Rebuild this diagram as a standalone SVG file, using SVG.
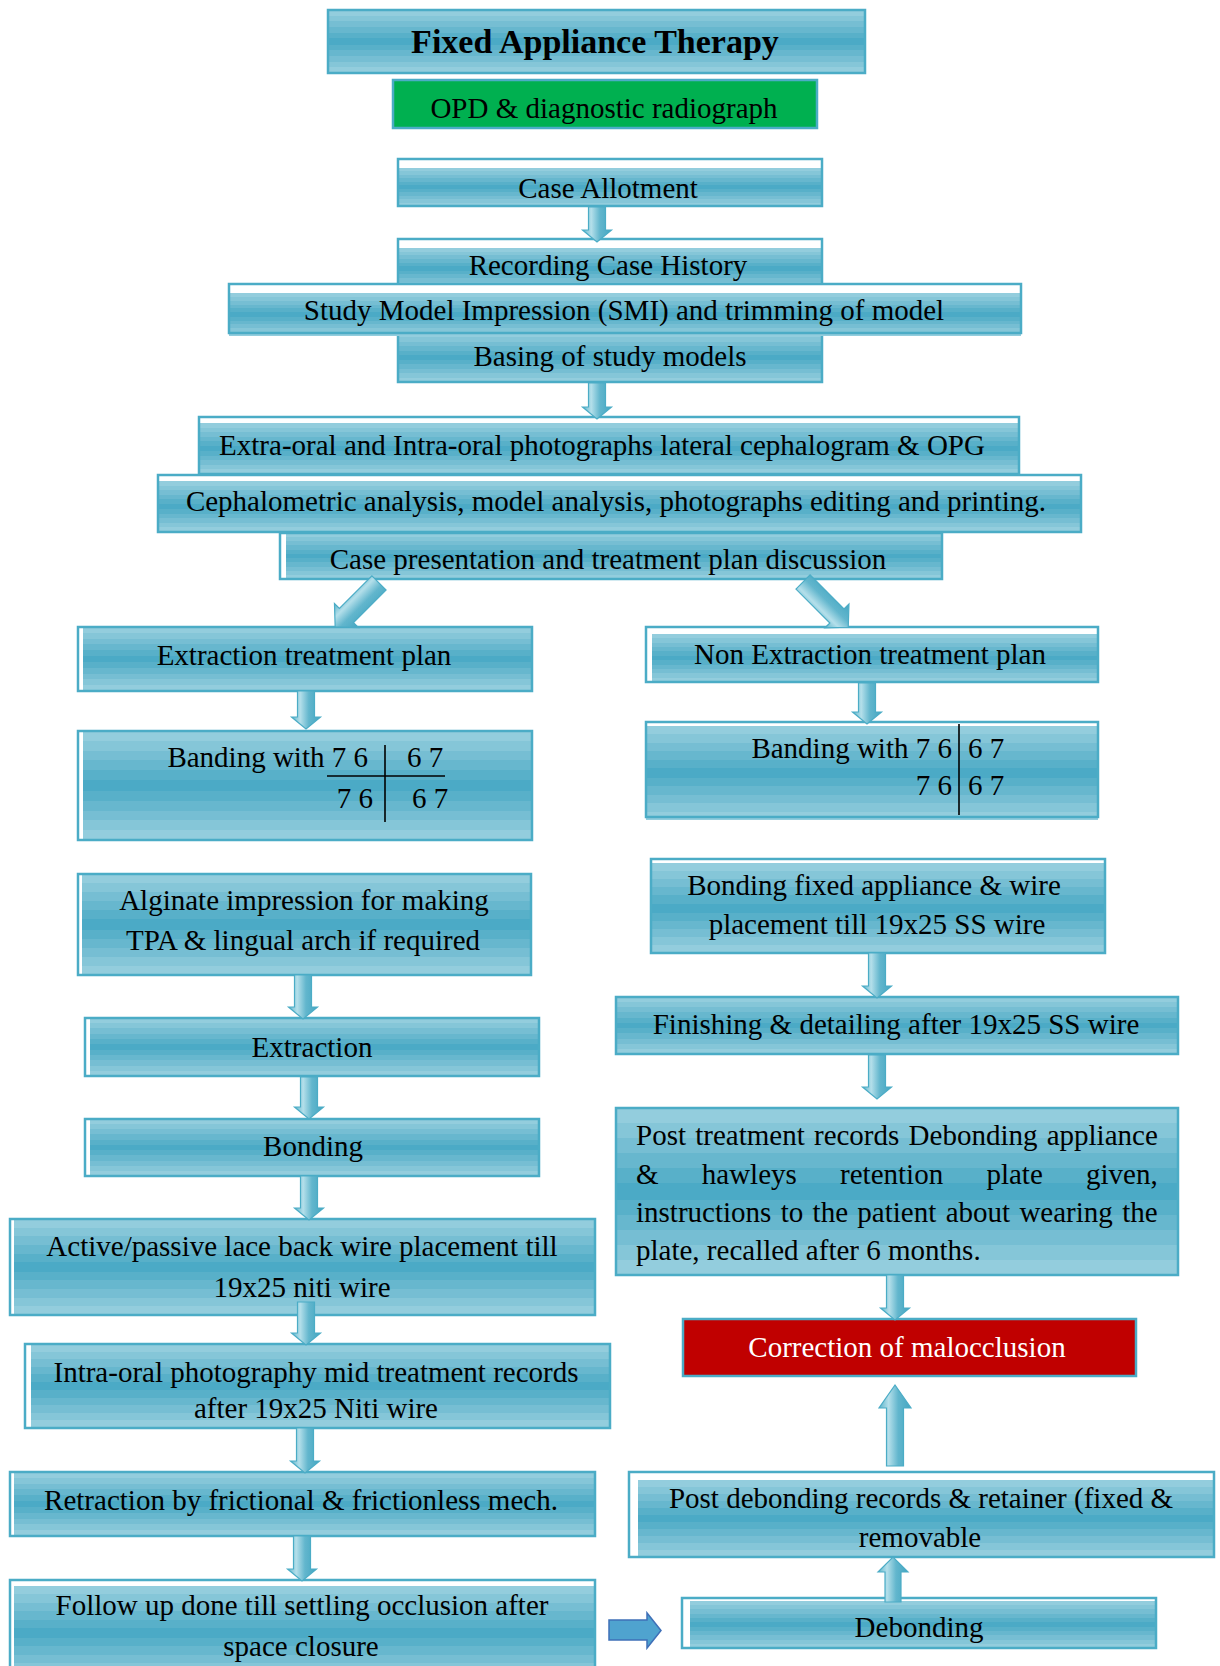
<svg xmlns="http://www.w3.org/2000/svg" width="1220" height="1666" viewBox="0 0 1220 1666">
<defs>
<linearGradient id="band" x1="0" y1="0" x2="0" y2="1">
<stop offset="0" stop-color="#93CDDD"/><stop offset="0.09" stop-color="#93CDDD"/>
<stop offset="0.09" stop-color="#85C6D8"/><stop offset="0.18" stop-color="#85C6D8"/>
<stop offset="0.18" stop-color="#76BED3"/><stop offset="0.27" stop-color="#76BED3"/>
<stop offset="0.27" stop-color="#67B7CE"/><stop offset="0.36" stop-color="#67B7CE"/>
<stop offset="0.36" stop-color="#58B0C9"/><stop offset="0.45" stop-color="#58B0C9"/>
<stop offset="0.45" stop-color="#4BAAC6"/><stop offset="0.55" stop-color="#4BAAC6"/>
<stop offset="0.55" stop-color="#58B0C9"/><stop offset="0.64" stop-color="#58B0C9"/>
<stop offset="0.64" stop-color="#67B7CE"/><stop offset="0.73" stop-color="#67B7CE"/>
<stop offset="0.73" stop-color="#76BED3"/><stop offset="0.82" stop-color="#76BED3"/>
<stop offset="0.82" stop-color="#85C6D8"/><stop offset="0.91" stop-color="#85C6D8"/>
<stop offset="0.91" stop-color="#93CDDD"/><stop offset="1" stop-color="#93CDDD"/>
</linearGradient>
<linearGradient id="ag" x1="0" y1="0" x2="1" y2="0">
<stop offset="0" stop-color="#5DB4CB"/>
<stop offset="0.3" stop-color="#B4DFEA"/>
<stop offset="0.6" stop-color="#62B6CD"/>
<stop offset="1" stop-color="#45A6C2"/>
</linearGradient>
<style>
.bg{fill:#fff;stroke:none}
.fl{fill:url(#band);stroke:none}
.ol{fill:none;stroke:#4BACC6;stroke-width:2.5}
.t{font-family:"Liberation Serif","Times New Roman",serif;font-size:29px;fill:#000;text-anchor:middle}
.tl{font-family:"Liberation Serif","Times New Roman",serif;font-size:29px;fill:#000}
.arr{fill:url(#ag);stroke:#4BACC6;stroke-width:1.2}
.ln{stroke:#000;stroke-width:1.6}
</style>
</defs>

<g id="title">
<rect class="fl" x="328" y="10" width="537" height="63"/>
<rect class="ol" x="328" y="10" width="537" height="63"/>
<text class="t" x="595" y="53" style="font-weight:bold;font-size:34px">Fixed Appliance Therapy</text>
</g>

<g id="opd">
<rect x="393" y="80" width="424" height="48" fill="#00B050" stroke="#4BACC6" stroke-width="2.5"/>
<text class="t" x="604" y="118">OPD &amp; diagnostic radiograph</text>
</g>

<g id="case-allotment">
<rect class="bg" x="398" y="159" width="424" height="47"/>
<rect class="fl" x="398" y="168" width="424" height="38"/>
<rect class="ol" x="398" y="159" width="424" height="47"/>
<text class="t" x="608" y="198">Case Allotment</text>
</g>

<g id="recording">
<rect class="bg" x="398" y="239" width="424" height="50"/>
<rect class="fl" x="398" y="248" width="424" height="41"/>
<rect class="ol" x="398" y="239" width="424" height="50"/>
<text class="t" x="608" y="275">Recording Case History</text>
</g>

<g id="basing">
<rect class="fl" x="398" y="333" width="424" height="49"/>
<rect class="ol" x="398" y="333" width="424" height="49"/>
<text class="t" x="610" y="366">Basing of study models</text>
</g>

<g id="study-model">
<rect class="bg" x="229" y="284" width="792" height="49"/>
<rect class="fl" x="229" y="293" width="792" height="43"/>
<rect class="ol" x="229" y="284" width="792" height="49"/>
<text class="t" x="624" y="320">Study Model Impression (SMI) and trimming of model</text>
</g>

<g id="extra-oral">
<rect class="bg" x="199" y="417" width="820" height="57"/>
<rect class="fl" x="199" y="423" width="820" height="51"/>
<rect class="ol" x="199" y="417" width="820" height="57"/>
<text class="t" x="602" y="455">Extra-oral and Intra-oral photographs lateral cephalogram &amp; OPG</text>
</g>

<g id="case-presentation">
<rect class="bg" x="280" y="533" width="662" height="46"/>
<rect class="fl" x="286" y="533" width="656" height="46"/>
<rect class="ol" x="280" y="533" width="662" height="46"/>
<text class="t" x="608" y="569">Case presentation and treatment plan discussion</text>
</g>

<g id="cephalometric">
<rect class="bg" x="158" y="475" width="923" height="57"/>
<rect class="fl" x="158" y="481" width="923" height="51"/>
<rect class="ol" x="158" y="475" width="923" height="57"/>
<text class="t" x="616" y="511">Cephalometric analysis, model analysis, photographs editing and printing.</text>
</g>

<g id="extraction-plan">
<rect class="bg" x="78" y="627" width="454" height="64"/>
<rect class="fl" x="83" y="627" width="449" height="64"/>
<rect class="ol" x="78" y="627" width="454" height="64"/>
<text class="t" x="304" y="665">Extraction treatment plan</text>
</g>

<g id="banding-left">
<rect class="bg" x="78" y="731" width="454" height="109"/>
<rect class="fl" x="83" y="731" width="449" height="109"/>
<rect class="ol" x="78" y="731" width="454" height="109"/>
<text class="tl" x="368" y="767" text-anchor="end">Banding with 7 6</text>
<text class="tl" x="407" y="767">6 7</text>
<text class="tl" x="373" y="808" text-anchor="end">7 6</text>
<text class="tl" x="412" y="808">6 7</text>
<line class="ln" x1="327" y1="776" x2="445" y2="776"/>
<line class="ln" x1="385" y1="745" x2="385" y2="822"/>
</g>

<g id="non-extraction-plan">
<rect class="bg" x="646" y="627" width="452" height="55"/>
<rect class="fl" x="652" y="634" width="446" height="48"/>
<rect class="ol" x="646" y="627" width="452" height="55"/>
<text class="t" x="870" y="664">Non Extraction treatment plan</text>
</g>

<g id="banding-right">
<rect class="bg" x="646" y="722" width="452" height="95"/>
<rect class="fl" x="646" y="726" width="452" height="94"/>
<rect class="ol" x="646" y="722" width="452" height="95"/>
<text class="tl" x="952" y="758" text-anchor="end">Banding with 7 6</text>
<text class="tl" x="968" y="758">6 7</text>
<text class="tl" x="952" y="795" text-anchor="end">7 6</text>
<text class="tl" x="968" y="795">6 7</text>
<line class="ln" x1="959" y1="724" x2="959" y2="815"/>
</g>

<g id="alginate">
<rect class="bg" x="78" y="874" width="453" height="101"/>
<rect class="fl" x="82" y="874" width="449" height="101"/>
<rect class="ol" x="78" y="874" width="453" height="101"/>
<text class="t" x="304" y="910">Alginate impression for making</text>
<text class="t" x="303" y="950">TPA &amp; lingual arch if required</text>
</g>

<g id="extraction">
<rect class="bg" x="85" y="1018" width="454" height="58"/>
<rect class="fl" x="90" y="1018" width="449" height="58"/>
<rect class="ol" x="85" y="1018" width="454" height="58"/>
<text class="t" x="312" y="1057">Extraction</text>
</g>

<g id="bonding">
<rect class="bg" x="85" y="1119" width="454" height="57"/>
<rect class="fl" x="90" y="1119" width="449" height="57"/>
<rect class="ol" x="85" y="1119" width="454" height="57"/>
<text class="t" x="313" y="1156">Bonding</text>
</g>

<g id="active-passive">
<rect class="bg" x="10" y="1219" width="585" height="96"/>
<rect class="fl" x="14" y="1219" width="581" height="96"/>
<rect class="ol" x="10" y="1219" width="585" height="96"/>
<text class="t" x="302" y="1256">Active/passive lace back wire placement till</text>
<text class="t" x="302" y="1297">19x25 niti wire</text>
</g>

<g id="intra-oral">
<rect class="bg" x="25" y="1344" width="585" height="84"/>
<rect class="fl" x="31" y="1344" width="579" height="84"/>
<rect class="ol" x="25" y="1344" width="585" height="84"/>
<text class="t" x="316" y="1382">Intra-oral photography mid treatment records</text>
<text class="t" x="316" y="1418">after 19x25 Niti wire</text>
</g>

<g id="retraction">
<rect class="bg" x="10" y="1472" width="585" height="64"/>
<rect class="fl" x="14" y="1472" width="581" height="64"/>
<rect class="ol" x="10" y="1472" width="585" height="64"/>
<text class="t" x="301" y="1510">Retraction by frictional &amp; frictionless mech.</text>
</g>

<g id="follow-up">
<rect class="bg" x="10" y="1580" width="585" height="100"/>
<rect class="fl" x="14" y="1586" width="581" height="94"/>
<rect class="ol" x="10" y="1580" width="585" height="100"/>
<text class="t" x="302" y="1615">Follow up done till settling occlusion after</text>
<text class="t" x="301" y="1656">space closure</text>
</g>

<g id="bonding-fixed">
<rect class="bg" x="651" y="859" width="454" height="94"/>
<rect class="fl" x="651" y="863" width="454" height="90"/>
<rect class="ol" x="651" y="859" width="454" height="94"/>
<text class="t" x="874" y="895">Bonding fixed appliance &amp; wire</text>
<text class="t" x="877" y="934">placement till 19x25 SS wire</text>
</g>

<g id="finishing">
<rect class="fl" x="616" y="997" width="562" height="57"/>
<rect class="ol" x="616" y="997" width="562" height="57"/>
<text class="t" x="896" y="1034">Finishing &amp; detailing after 19x25 SS wire</text>
</g>

<g id="post-treatment">
<rect class="fl" x="616" y="1108" width="562" height="167"/>
<rect class="ol" x="616" y="1108" width="562" height="167"/>
<text class="tl" x="636" y="1145" word-spacing="2">Post treatment records Debonding appliance</text>
<text class="tl" x="636" y="1184" word-spacing="36">&amp; hawleys retention plate given,</text>
<text class="tl" x="636" y="1222" word-spacing="2.1">instructions to the patient about wearing the</text>
<text class="tl" x="636" y="1260">plate, recalled after 6 months.</text>
</g>

<g id="correction">
<rect x="683" y="1319" width="453" height="57" fill="#C00000" stroke="#4BACC6" stroke-width="2.5"/>
<text class="t" x="907" y="1357" style="fill:#fff">Correction of malocclusion</text>
</g>

<g id="post-debonding">
<rect class="bg" x="629" y="1472" width="585" height="85"/>
<rect class="fl" x="638" y="1480" width="576" height="77"/>
<rect class="ol" x="629" y="1472" width="585" height="85"/>
<text class="t" x="921" y="1508">Post debonding records &amp; retainer (fixed &amp;</text>
<text class="t" x="920" y="1547">removable</text>
</g>

<g id="debonding">
<rect class="bg" x="682" y="1598" width="474" height="50"/>
<rect class="fl" x="690" y="1601" width="466" height="47"/>
<rect class="ol" x="682" y="1598" width="474" height="50"/>
<text class="t" x="919" y="1637">Debonding</text>
</g>

<g id="connectors">
<path class="arr" d="M588.5,207 H605.5 V230 H611.5 L597,242 L582.5,230 H588.5 Z"/>
<path class="arr" d="M588.5,383 H605.5 V407 H611.5 L597,419 L582.5,407 H588.5 Z"/>
<path class="arr" transform="translate(379,583) rotate(45)" d="M-10,0 H10 V46 H17 L0,62 L-17,46 H-10 Z"/>
<path class="arr" transform="translate(803,582) rotate(-45)" d="M-10,0 H10 V48 H17 L0,64 L-17,48 H-10 Z"/>
<path class="arr" d="M297.5,691 H314.5 V717 H320.5 L306,729 L291.5,717 H297.5 Z"/>
<path class="arr" d="M858.5,683 H875.5 V712 H881.5 L867,724 L852.5,712 H858.5 Z"/>
<path class="arr" d="M294.5,975 H311.5 V1007 H317.5 L303,1019 L288.5,1007 H294.5 Z"/>
<path class="arr" d="M300.5,1077 H317.5 V1107 H323.5 L309,1119 L294.5,1107 H300.5 Z"/>
<path class="arr" d="M300.5,1176 H317.5 V1208 H323.5 L309,1220 L294.5,1208 H300.5 Z"/>
<path class="arr" d="M297.5,1302 H314.5 V1333 H320.5 L306,1345 L291.5,1333 H297.5 Z"/>
<path class="arr" d="M296.5,1428 H313.5 V1461 H319.5 L305,1473 L290.5,1461 H296.5 Z"/>
<path class="arr" d="M293.5,1536 H310.5 V1569 H316.5 L302,1581 L287.5,1569 H293.5 Z"/>
<path class="arr" d="M868.5,953 H885.5 V986 H891.5 L877,998 L862.5,986 H868.5 Z"/>
<path class="arr" d="M868.5,1055 H885.5 V1087 H891.5 L877,1099 L862.5,1087 H868.5 Z"/>
<path class="arr" d="M886.5,1275 H903.5 V1308 H909.5 L895,1320 L880.5,1308 H886.5 Z"/>
<path class="arr" d="M886.5,1466 H903.5 V1408 H911 L895,1385 L879,1408 H886.5 Z"/>
<path class="arr" d="M885,1602 H901 V1572 H908 L893,1557 L878,1572 H885 Z"/>
<path d="M609,1620 H647 V1613 L661,1630.5 L647,1648 V1640 H609 Z" fill="#4FA3CF" stroke="#3F70B8" stroke-width="1.5"/>
</g>
</svg>
